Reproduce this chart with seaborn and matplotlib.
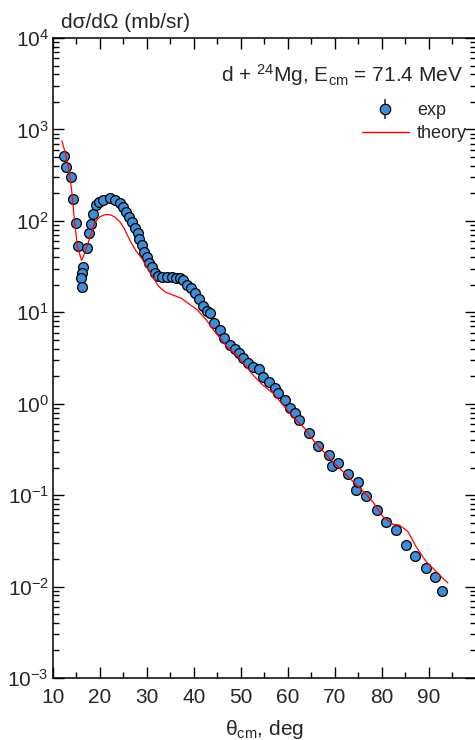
import matplotlib
matplotlib.use("Agg")
import matplotlib.pyplot as plt
from matplotlib import font_manager
from matplotlib.lines import Line2D
from matplotlib.ticker import LogLocator, NullFormatter, FixedLocator, LogFormatterSciNotation
import pandas as pd
import seaborn as sns

# Measured elastic cross section, d + 24Mg at E_cm = 71.4 MeV
theta_exp = [12.3, 12.8, 13.8, 14.2, 14.9, 15.4, 16.4, 16.1, 15.9, 16.2,
             17.3, 17.6, 18.1, 18.6, 19.1, 19.8, 20.7, 22.1, 23.3, 24.2,
             24.9, 25.6, 26.1, 26.8, 27.5, 28.0, 28.4, 28.9, 29.4, 30.0,
             30.5, 31.0, 31.7, 32.4, 33.3, 34.3, 35.3, 36.2, 37.0, 37.7,
             38.6, 39.5, 40.2, 41.1, 42.0, 42.7, 43.4, 44.3, 45.5, 46.4,
             47.7, 48.7, 49.6, 50.5, 51.6, 52.6, 53.9, 54.7, 56.0, 57.2,
             57.9, 59.4, 60.4, 61.5, 62.4, 64.5, 66.4, 68.8, 69.4, 70.7,
             72.8, 74.5, 75.0, 76.7, 79.0, 80.9, 83.0, 85.1, 87.2, 89.4,
             91.3, 92.9]
sigma_exp = [510, 390, 300, 172, 94, 53, 31, 27, 23.5, 18.7,
             51, 74, 93, 120, 149, 161, 169, 177, 170, 158,
             141, 126, 111, 96, 83, 73, 63, 54.5, 46, 40.5,
             35, 31.5, 26.7, 24.9, 24.3, 24.1, 24.1, 24.0, 23.6, 22.6,
             19.9, 18.3, 16.1, 13.9, 11.7, 10.4, 9.7, 7.7, 6.4, 5.2,
             4.4, 4.0, 3.56, 3.14, 2.77, 2.50, 2.38, 1.98, 1.74, 1.47,
             1.30, 1.10, 0.89, 0.785, 0.66, 0.475, 0.348, 0.275, 0.208, 0.223,
             0.170, 0.114, 0.140, 0.098, 0.069, 0.051, 0.042, 0.0285, 0.0216, 0.0158,
             0.0126, 0.0090]

# Optical-model calculation
theta_th = [11.9, 12.55, 13.3, 14.0, 14.5, 15.2, 16.1, 16.4, 17.2, 17.9,
            18.9, 20.0, 21.1, 22.1, 23.2, 24.3, 25.2, 25.7, 26.7, 27.8,
            28.9, 29.9, 31.0, 32.4, 33.8, 35.6, 37.4, 38.8, 40.6, 42.7,
            44.5, 45.9, 47.0, 49.1, 51.2, 52.6, 54.7, 56.9, 59.0, 61.1,
            63.6, 65.4, 68.9, 72.5, 76.0, 78.1, 80.3, 82.4, 83.8, 85.6,
            87.4, 89.5, 91.3, 92.7, 94.1]
sigma_th = [750, 570, 390, 210, 111, 52, 37, 40, 52, 67,
            96, 111, 117, 117, 110, 97, 82, 72, 57, 46,
            39, 31.6, 25.6, 19.5, 16.8, 15.4, 14.2, 12.5, 10.8, 8.2,
            6.1, 5.0, 4.2, 3.4, 2.54, 2.06, 1.60, 1.30, 0.97, 0.72,
            0.54, 0.40, 0.253, 0.166, 0.111, 0.085, 0.058, 0.048, 0.047, 0.040,
            0.027, 0.0187, 0.0152, 0.0128, 0.0110]

x_ticks = [10, 20, 30, 40, 50, 60, 70, 80, 90]
y_ticks = [1e-3, 1e-2, 1e-1, 1e0, 1e1, 1e2, 1e3, 1e4]
legend_labels = ["exp", "theory"]
reaction_label = r"d + ${}^{24}$Mg, E$_{\mathrm{cm}}$ = 71.4 MeV"

exp_df = pd.DataFrame({"theta": theta_exp, "sigma": sigma_exp})
th_df = pd.DataFrame({"theta": theta_th, "sigma": sigma_th})

sns.set_style("ticks")
available = {f.name for f in font_manager.fontManager.ttflist}
base = "Liberation Sans Narrow" if "Liberation Sans Narrow" in available else "Liberation Sans"
plt.rcParams["font.family"] = [base, "DejaVu Sans"]
plt.rcParams["mathtext.fontset"] = "custom"
plt.rcParams["mathtext.rm"] = base
plt.rcParams["mathtext.it"] = base + ":italic"
plt.rcParams["mathtext.bf"] = base + ":bold"
plt.rcParams["mathtext.default"] = "regular"

marker_blue = "#3d8dd8"

fig = plt.figure(figsize=(4.75, 7.4), dpi=100)
ax = fig.add_axes([53 / 475, 62 / 740, 422.5 / 475, 640 / 740])

sns.scatterplot(data=exp_df, x="theta", y="sigma", ax=ax, s=50,
                color=marker_blue, edgecolor="black", linewidth=0.9,
                zorder=3, legend=False)
sns.lineplot(data=th_df, x="theta", y="sigma", ax=ax, color="red",
             linewidth=0.9, estimator=None, sort=False, zorder=4)

ax.set_yscale("log")
ax.set_xlim(10, 100)
ax.set_ylim(1e-3, 1e4)

ax.yaxis.set_major_locator(FixedLocator(y_ticks))
ax.yaxis.set_major_formatter(LogFormatterSciNotation())
ax.yaxis.set_minor_locator(LogLocator(base=10, subs=range(2, 10), numticks=100))
ax.yaxis.set_minor_formatter(NullFormatter())
ax.set_xticks(x_ticks)
ax.set_xticks(range(15, 100, 10), minor=True)

for s in ax.spines.values():
    s.set_linewidth(1.1)
    s.set_color("black")

ax.tick_params(which="both", direction="in", top=True, right=True,
               color="black", width=1.0)
ax.tick_params(which="major", length=8, labelsize=15)
ax.tick_params(which="minor", length=4.5)
ax.tick_params(axis="x", which="major", pad=7)
ax.tick_params(axis="y", which="major", pad=3)

ax.set_xlabel(r"$\mathrm{θ_{cm}}$, deg", fontsize=15, va="top")
ax.xaxis.set_label_coords((264 - 53) / 422.5, -0.062)
ax.set_ylabel("dσ/dΩ (mb/sr)", fontsize=15, rotation=0, ha="left", va="center")
ax.yaxis.set_label_coords((61 - 53) / 422.5, 1.024)

ax.text(0.972, (678 - 82) / 640, reaction_label, transform=ax.transAxes,
        ha="right", va="baseline", fontsize=15)

exp_handle = (Line2D([], [], marker="|", markersize=15, markeredgewidth=1.1,
                     color="#222222", linestyle="none"),
              Line2D([], [], marker="o", markersize=7.5, markerfacecolor=marker_blue,
                     markeredgecolor="black", markeredgewidth=0.9, linestyle="none"))
th_handle = Line2D([], [], color="red", linewidth=1.0)
ax.legend([exp_handle, th_handle], legend_labels, loc="upper right",
          bbox_to_anchor=((467 - 53) / 422.5, (678 - 102) / 640),
          frameon=False, fontsize=13, handlelength=2.6, handletextpad=0.45,
          labelspacing=0.35, borderpad=0, borderaxespad=0)

fig.savefig("out.png", dpi=100)
